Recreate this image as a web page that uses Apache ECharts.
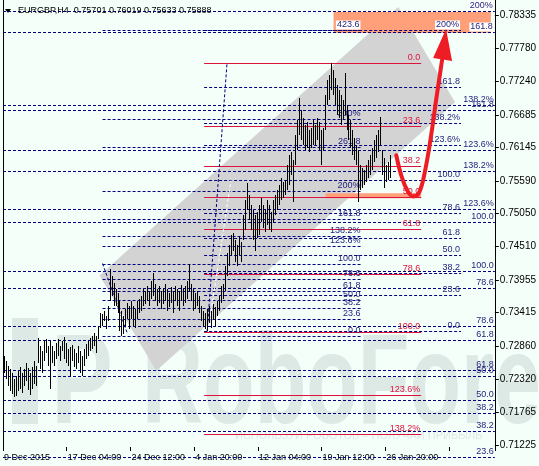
<!DOCTYPE html>
<html><head><meta charset="utf-8">
<script src="https://cdn.jsdelivr.net/npm/echarts@6/dist/echarts.min.js"></script>
<style>html,body{margin:0;padding:0;background:#f5fffa}#c{width:539px;height:466px}</style>
</head><body><div id="c"></div>
<script>
// ---------- data ----------
const symbolName = 'EURGBP,H4';
const lastBar = [0.75701, 0.76019, 0.75633, 0.75888]; // O H L C of the last bar
const barSlots = 247;
const xTickLabels = ['9 Dec 2015','17 Dec 04:00','24 Dec 12:00','4 Jan 20:00','12 Jan 04:00','19 Jan 12:00','26 Jan 20:00'];
const yTicks = [0.78335,0.77780,0.77240,0.76685,0.76145,0.75590,0.75050,0.74510,0.73955,0.73415,0.72860,0.72320,0.71765,0.71225];
const yMin = 0.71192, yMax = 0.78583;

const highs = [
0.72702,0.72619,0.72536,0.72486,0.72420,0.72320,0.72370,0.72453,0.72520,0.72420,0.72486,0.72586,0.72503,0.72420,0.72520,0.72619,0.72536,
0.73000,0.72868,0.72785,0.72950,0.72984,0.72868,0.72950,0.72868,0.72785,0.72917,0.72984,0.72868,0.72950,0.73016,0.72917,0.72818,
0.72851,0.72884,0.72818,0.72752,0.72868,0.72785,0.72702,0.72818,0.72901,0.72950,0.73000,0.73033,0.73083,0.73033,0.73199,0.73414,0.73398,0.73447,0.73365,0.73530,
0.74143,0.74027,0.73911,0.73812,0.73746,0.73613,0.73447,0.73365,0.73480,0.73580,0.73530,0.73613,0.73530,0.73480,0.73613,0.73646,0.73696,
0.73812,0.73779,0.73862,0.73779,0.73944,0.74077,0.73895,0.73812,0.73862,0.73779,0.73829,0.73895,0.73812,0.73746,0.73845,0.73779,0.73862,0.73812,0.73779,0.73878,0.73812,0.73862,0.73944,0.74226,0.73895,0.73812,0.73746,0.73779,0.73696,
0.73530,0.73447,0.73414,0.73480,0.73530,0.73447,0.73563,0.73514,0.73613,0.73696,0.73862,0.73895,0.74193,0.74392,0.74524,0.74690,0.74723,0.74607,0.74524,0.74657,0.74574,
0.75021,0.75270,0.75552,0.75353,0.75187,0.75104,0.75021,0.75071,0.75187,0.75303,0.75187,0.75104,0.75270,0.75187,0.75071,0.75270,0.75353,0.75436,0.75519,0.75635,0.75568,0.75601,0.75850,0.76016,0.76065,0.75933,
0.76347,0.76596,0.76960,0.76761,0.76629,0.76513,0.76562,0.76430,0.76463,0.76596,0.76513,0.76629,0.76562,0.76430,0.76463,0.77010,0.77258,0.77341,0.77540,0.77424,0.77292,0.77176,0.77093,0.77010,0.76927,
0.77374,0.76844,0.76679,0.76596,0.76430,0.76297,0.76181,0.76099,0.75850,0.75800,0.75767,0.75850,0.75933,0.76016,0.76132,0.76264,0.76347,0.76430,0.76645,0.76099,0.75966,0.75850,0.75900,0.76019
];
const lows = [
0.72420,0.72320,0.72204,0.72121,0.72072,0.72022,0.72039,0.72121,0.72154,0.72088,0.72204,0.72287,0.72138,0.72055,0.72154,0.72238,0.72204,
0.72586,0.72486,0.72420,0.72619,0.72752,0.72536,0.72154,0.72586,0.72536,0.72653,0.72702,0.72619,0.72785,0.72653,0.72586,0.72536,
0.72370,0.72619,0.72520,0.72486,0.72586,0.72420,0.72370,0.72536,0.72653,0.72702,0.72785,0.72818,0.72868,0.72752,0.72984,0.73166,0.73199,0.73282,0.73149,0.73282,
0.73613,0.73696,0.73530,0.73530,0.73414,0.73116,0.73033,0.73066,0.73199,0.73315,0.73149,0.73315,0.73199,0.73166,0.73315,0.73414,0.73447,
0.73530,0.73563,0.73613,0.73530,0.73646,0.73696,0.73613,0.73530,0.73580,0.73480,0.73563,0.73613,0.73447,0.73514,0.73580,0.73414,0.73613,0.73530,0.73447,0.73613,0.73530,0.73580,0.73646,0.73779,0.73613,0.73447,0.73480,0.73530,0.73414,
0.73282,0.73199,0.73149,0.73116,0.73249,0.73166,0.73315,0.73199,0.73365,0.73447,0.73580,0.73646,0.73779,0.74027,0.74193,0.74359,0.74441,0.74243,0.74193,0.74359,0.74243,
0.74607,0.74773,0.75104,0.74938,0.74773,0.74607,0.74441,0.74640,0.74690,0.74905,0.74806,0.74740,0.74856,0.74773,0.74740,0.74905,0.75021,0.75104,0.75187,0.75270,0.75303,0.75353,0.75436,0.75519,0.75684,0.75237,
0.75850,0.76099,0.76347,0.76264,0.76181,0.76099,0.76132,0.76065,0.76132,0.76181,0.76181,0.76264,0.76099,0.75850,0.76099,0.76430,0.76844,0.76927,0.77093,0.77010,0.76844,0.76679,0.76629,0.76513,0.76596,
0.76679,0.76430,0.76264,0.76132,0.76016,0.75933,0.75850,0.75237,0.75436,0.75469,0.75519,0.75568,0.75635,0.75684,0.75767,0.75900,0.75966,0.76065,0.76181,0.75684,0.75469,0.75568,0.75601,0.75633
];

// Fibonacci tools: anchors (price at 0% / 100%), span in bar units, levels and their texts
const fibA_p0 = 0.73033, fibA_p100 = 0.74226, fibA_span = [50, 180];
const fibA_levels = [0,23.6,38.2,50,61.8,78.6,100,123.6,138.2,161.8,200,261.8,300,423.6];
const fibA_labels = ['0.0','23.6','38.2','50.0','61.8','78.6','100.0','123.6%','138.2%','161.8','200%','261.8','300%','423.6'];
const fibB_p0 = 0.73116, fibB_p100 = 0.75601, fibB_span = [101, 230];
const fibB_levels = [0,23.6,38.2,50,61.8,78.6,100,123.6,138.2,161.8,200];
const fibB_labels = ['0.0','23.6','38.2','50.0','61.8','78.6','100.0','123.6%','138.2%','161.8','200%'];
const fibC1_p0 = 0.69818, fibC1_p100 = 0.74905, fibC1_span = [0, 247];
const fibC1_levels = [23.6,38.2,50,61.8,78.6,100,123.6,138.2,161.8];
const fibC1_labels = ['23.6','38.2','50.0','61.8','78.6','100.0','123.6%','138.2%','161.8'];
const fibC2_p0 = 0.69818, fibC2_p100 = 0.74110, fibC2_span = [0, 247];
const fibC2_levels = [38.2,50,61.8,78.6,100,123.6,138.2,161.8,200];
const fibC2_labels = ['38.2','50.0','61.8','78.6','100.0','123.6%','138.2%','161.8','200%'];
const fibR_p0 = 0.77540, fibR_p100 = 0.73099, fibR_span = [101, 210];
const fibR_levels = [0,23.6,38.2,50,61.8,78.6,100,123.6,138.2];
const fibR_labels = ['0.0','23.6','38.2','50.0','61.8','78.6','100.0','123.6%','138.2%'];

// fib trend lines [u, price] pairs
const trendR = [[102.5, 0.73099], [112.5, 0.77540]];
const trendB = [[103, 0.73116], [114.5, 0.75601]];
const trendA = [[50, 0.74226], [62.5, 0.73066]];

// grey channel corners (bar units, price)
const channelU = [198.5, 227, 77, 48.5];
const channelP = [0.78468, 0.76894, 0.72453, 0.74027];
// orange zones [u1, u2, pTop, pBottom]
const zones = [[166, 245, 0.78385, 0.78037], [162, 210, 0.75386, 0.75303]];
// forecast arrow path
const arrowU = [197.5, 200, 203, 206, 209, 212, 215, 217.5, 220.5];
const arrowP = [0.76016, 0.75684, 0.75436, 0.75336, 0.75402, 0.75767, 0.76347, 0.76927, 0.77590];
const arrowHeadU = [222.5, 216, 225.5];
const arrowHeadP = [0.78103, 0.77623, 0.77573];

// ---------- build ----------
const NAVY = '#000080', NAVY_TXT = '#24247e', RED = '#dc143c';
const FONT = '"Liberation Sans", Arial, sans-serif';
const WM = '#dde9e5';
const cats = Array.from({length: barSlots}, (_, i) => String(i));

const fibSegs = [];
function addFib(p0, p100, span, levels, labels, color, txt, dash) {
  levels.forEach((lv, k) => fibSegs.push({u1: span[0], u2: span[1], p: p0 + (p100 - p0) * lv / 100, text: labels[k], color, txt, dash}));
}
addFib(fibC1_p0, fibC1_p100, fibC1_span, fibC1_levels, fibC1_labels, NAVY, NAVY_TXT, true);
addFib(fibC2_p0, fibC2_p100, fibC2_span, fibC2_levels, fibC2_labels, NAVY, NAVY_TXT, true);
addFib(fibA_p0, fibA_p100, fibA_span, fibA_levels, fibA_labels, NAVY, NAVY_TXT, true);
addFib(fibB_p0, fibB_p100, fibB_span, fibB_levels, fibB_labels, NAVY, NAVY_TXT, true);
addFib(fibR_p0, fibR_p100, fibR_span, fibR_levels, fibR_labels, RED, RED, false);

function inTopZone(s) {
  const z = zones[0];
  return s.u2 > z[0] && s.u2 <= z[1] + 3 && s.p < z[2] + 0.0006 && s.p > z[3] - 0.0006;
}

const option = {
  animation: false,
  backgroundColor: '#f5fffa',
  grid: {left: 3, right: 42, top: 0, bottom: 19, containLabel: false},
  xAxis: [
    {type: 'category', data: cats, boundaryGap: true,
     axisLine: {show: false, onZero: false},
     axisTick: {show: true, interval: 31, length: 4, lineStyle: {color: '#000'}},
     axisLabel: {interval: 31, align: 'left', margin: 6, fontSize: 9, fontFamily: FONT, color: '#000',
       formatter: (v) => xTickLabels[Number(v) / 32] || ''},
     splitLine: {show: false}},
    {type: 'value', min: 0, max: barSlots, show: false}
  ],
  yAxis: [
    {type: 'value', position: 'right', min: yMin, max: yMax,
     axisLine: {show: true, onZero: false, lineStyle: {color: '#000'}},
     axisTick: {show: true, length: 4, customValues: yTicks, lineStyle: {color: '#000'}},
     axisLabel: {customValues: yTicks, margin: 5, fontSize: 10, fontFamily: FONT, color: '#000', formatter: v => v.toFixed(5)},
     splitLine: {show: false}},
    {type: 'value', position: 'left', min: yMin, max: yMax,
     axisLine: {show: true, onZero: false, lineStyle: {color: '#000'}},
     axisTick: {show: false}, axisLabel: {show: false}, splitLine: {show: false}}
  ],
  graphic: [
    {type: 'group', z: 0, silent: true, children: [
      {type: 'rect', shape: {x: 12, y: 318, width: 26, height: 106}, style: {fill: WM}},
      {type: 'text', x: 40, y: 452, scaleX: 0.72, originX: 40, originY: 452,
       style: {text: 'P', font: 'bold 128px ' + FONT, fill: WM, verticalAlign: 'bottom'}},
      {type: 'text', x: 106, y: 452, scaleX: 0.66, originX: 106, originY: 452,
       style: {text: 'RoboForex', font: 'bold 128px ' + FONT, fill: WM, verticalAlign: 'bottom'}},
      {type: 'text', x: 235, y: 441,
       style: {text: 'ИСПОЛЬЗУЙ РОБОТОВ – ПОЛУЧАЙ ПРИБЫЛЬ', font: '11px ' + FONT, fill: WM, verticalAlign: 'bottom'}}
    ]},
    {type: 'polygon', z: 100, silent: true, shape: {points: [[5, 9], [11, 9], [8, 13]]}, style: {fill: '#000'}},
    {type: 'text', x: 18, y: 11, z: 100, silent: true,
     style: {text: symbolName + '  ' + lastBar.map(v => v.toFixed(5)).join(' '), font: '9px ' + FONT, fill: '#000', verticalAlign: 'middle'}}
  ],
  series: [
    {type: 'custom', name: 'channel', xAxisIndex: 1, yAxisIndex: 0, z: 1, silent: true,
     data: [[channelU[0], channelP[0]]],
     renderItem: (params, api) => ({type: 'polygon',
        shape: {points: channelU.map((u, k) => api.coord([u, channelP[k]]))},
        style: {fill: '#d3d3d3'}})},
    {type: 'custom', name: 'zones', xAxisIndex: 1, yAxisIndex: 0, z: 2, silent: true,
     data: zones, encode: {x: [0, 1], y: [2, 3]},
     renderItem: (params, api) => {
       const a = api.coord([api.value(0), api.value(2)]), b = api.coord([api.value(1), api.value(3)]);
       return {type: 'rect', shape: {x: a[0], y: a[1], width: b[0] - a[0], height: b[1] - a[1]},
               style: {fill: '#ffa07a', blend: 'multiply'}};
     }},
    {type: 'custom', name: 'fib', xAxisIndex: 1, yAxisIndex: 0, z: 3, silent: true,
     data: fibSegs.map(s => [s.u1, s.u2, s.p]), encode: {x: [0, 1], y: 2},
     renderItem: (params, api) => {
       const s = fibSegs[params.dataIndex];
       const a = api.coord([s.u1, s.p]), b = api.coord([s.u2, s.p]);
       const y = Math.round(a[1]) + 0.5;
       const bg = inTopZone(s);
       return {type: 'group', children: [
         {type: 'line', shape: {x1: a[0], y1: y, x2: b[0], y2: y},
          style: {stroke: s.color, lineWidth: 1, lineDash: s.dash ? [3, 2] : null}},
         {type: 'text', x: b[0] - 1, y: y - 1, z2: 10,
          style: {text: s.text, fill: s.txt, font: '9px ' + FONT, align: 'right', verticalAlign: 'bottom',
                  backgroundColor: bg ? '#ffffff' : null, padding: bg ? [0, 1, 0, 1] : 0}}
       ]};
     }},
    {type: 'line', name: 'trendR', xAxisIndex: 1, yAxisIndex: 0, z: 3, silent: true, symbol: 'none',
     data: trendR, lineStyle: {color: NAVY, width: 1, type: [3, 2]}},
    {type: 'line', name: 'trendB', xAxisIndex: 1, yAxisIndex: 0, z: 3, silent: true, symbol: 'none',
     data: trendB, lineStyle: {color: '#ffffff', width: 1, type: [3, 2]}},
    {type: 'line', name: 'trendA', xAxisIndex: 1, yAxisIndex: 0, z: 3, silent: true, symbol: 'none',
     data: trendA, lineStyle: {color: NAVY, width: 1, type: [3, 2]}},
    {type: 'line', name: 'arrow', xAxisIndex: 1, yAxisIndex: 0, z: 4, silent: true, symbol: 'none', smooth: 0.4,
     data: arrowU.map((u, k) => [u, arrowP[k]]), lineStyle: {color: '#ee1c24', width: 4, cap: 'round'}},
    {type: 'custom', name: 'arrowHead', xAxisIndex: 1, yAxisIndex: 0, z: 4, silent: true,
     data: [[arrowHeadU[0], arrowHeadP[0]]],
     renderItem: (params, api) => ({type: 'polygon',
        shape: {points: arrowHeadU.map((u, k) => api.coord([u, arrowHeadP[k]]))},
        style: {fill: '#ee1c24'}})},
    // price bars (high-low) drawn through the category axis and price axis
    {type: 'custom', name: symbolName, xAxisIndex: 0, yAxisIndex: 0, z: 5, silent: true,
     data: highs.map((h, i) => [i, lows[i], h]), encode: {x: 0, y: [1, 2]},
     renderItem: (params, api) => {
       const lo = api.coord([api.value(0), api.value(1)]);
       const hi = api.coord([api.value(0), api.value(2)]);
       const x = Math.round(lo[0]) + 0.5;
       return {type: 'line', shape: {x1: x, y1: Math.round(lo[1]), x2: x, y2: Math.round(hi[1])},
               style: {stroke: '#000', lineWidth: 1}};
     }},
    // last price marker on the price scale
    {type: 'line', name: 'last', xAxisIndex: 0, yAxisIndex: 0, z: 6, silent: true, symbol: 'none', data: [],
     markLine: {silent: true, symbol: ['none', 'none'], animation: false,
       data: [{yAxis: lastBar[3]}], lineStyle: {opacity: 0},
       label: {show: true, position: 'end', distance: 0, formatter: lastBar[3].toFixed(5),
               color: '#fff', backgroundColor: '#000', padding: [2, 4, 2, 4], fontSize: 10, fontFamily: FONT}}}
  ]
};
const chart = echarts.init(document.getElementById('c'), null, {renderer: 'canvas', width: 539, height: 466});
chart.setOption(option);
</script></body></html>
